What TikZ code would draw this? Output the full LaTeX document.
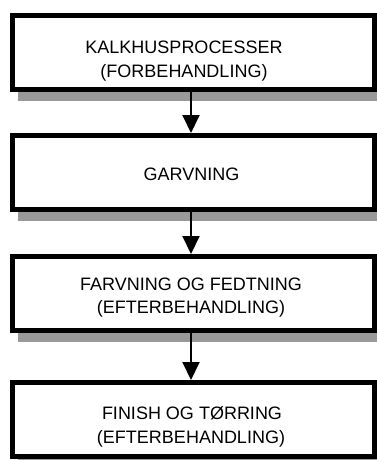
\documentclass[tikz,border=0pt]{standalone}
\usepackage{fontspec}
\setmainfont{Liberation Sans}
\usetikzlibrary{arrows.meta}
\pgfdeclarelayer{background}
\pgfsetlayers{background,main}
\definecolor{shadowgray}{HTML}{999999}
\begin{document}
\begin{tikzpicture}[x=1pt,y=-1pt,
  stepbox/.style={draw=black, line width=5pt, fill=white,
    minimum width=362pt, minimum height=74pt, anchor=north west, inner sep=0pt},
  label/.style={font=\fontsize{18}{24}\selectfont, anchor=base, inner sep=0pt},
  flow/.style={line width=2pt, -{Triangle[length=18pt,width=17pt]}}]
  \useasboundingbox (0,0) rectangle (377,460);
  \begin{scope}
    \clip (0,0) rectangle (377,460);
    % process boxes (north west corner of the outer border)
    \node[stepbox] (b1) at (10,13) {};
    \node[stepbox] (b2) at (10,133) {};
    \node[stepbox] (b3) at (10,254) {};
    \node[stepbox] (b4) at (10,380) {};
    % flat drop shadows behind the boxes
    \begin{pgfonlayer}{background}
      \foreach \b in {b1,b2,b3,b4}
        \fill[shadowgray] ([shift={(8,9)}]\b.north west) rectangle ([shift={(8,9)}]\b.south east);
    \end{pgfonlayer}
  \end{scope}
  % box texts
  \node[label] (t1a) at (184,53.3) {KALKHUSPROCESSER};
  \node[label] (t1b) at (184,77.3) {(FORBEHANDLING)};
  \node[label] (t2)  at (191.5,180) {GARVNING};
  \node[label] (t3a) at (191,290) {FARVNING OG FEDTNING};
  \node[label] (t3b) at (191,313) {(EFTERBEHANDLING)};
  \node[label] (t4a) at (192,419) {FINISH OG TØRRING};
  \node[label] (t4b) at (191,443) {(EFTERBEHANDLING)};
  % connectors
  \coordinate (ax) at (191,0);
  \draw[flow] (b1.south -| ax) -- (b2.north -| ax);
  \draw[flow] (b2.south -| ax) -- (b3.north -| ax);
  \draw[flow] (b3.south -| ax) -- (b4.north -| ax);
\end{tikzpicture}
\end{document}
